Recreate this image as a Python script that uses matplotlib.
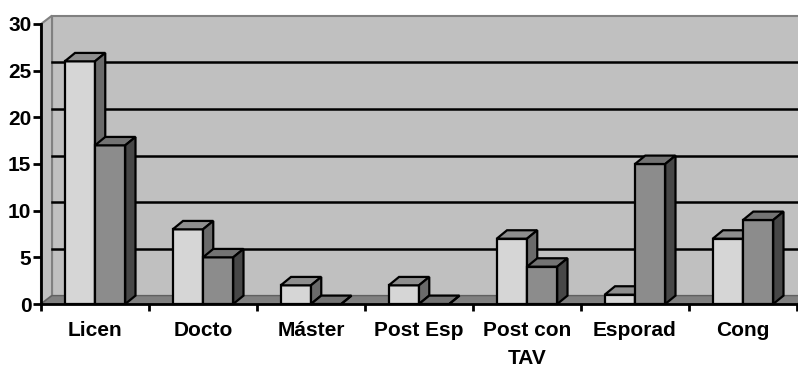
import matplotlib.pyplot as plt
from matplotlib.patches import Polygon

plt.rcParams['font.family'] = ['Liberation Sans', 'DejaVu Sans']
plt.rcParams['font.weight'] = 'bold'

categorias = ['Licen', 'Docto', 'Máster', 'Post Esp', 'Post con\nTAV', 'Esporad', 'Cong']
serie_a = [26, 8, 2, 2, 7, 1, 7]
serie_b = [17, 5, 0, 0, 4, 15, 9]
y_ticks = [0, 5, 10, 15, 20, 25, 30]

# profundidad de la vista 3D (en unidades de datos)
DX_PARED, DY = 0.102, 0.9
DX_BARRA = 0.095
ANCHO = 0.28


def barra(ax, x0, h, frente, techo, lado):
    x1 = x0 + ANCHO
    caras = [
        ([(x0, 0), (x1, 0), (x1, h), (x0, h)], frente),
        ([(x0, h), (x1, h), (x1 + DX_BARRA, h + DY), (x0 + DX_BARRA, h + DY)], techo),
        ([(x1, 0), (x1 + DX_BARRA, DY), (x1 + DX_BARRA, h + DY), (x1, h)], lado),
    ]
    for pts, col in caras:
        ax.add_patch(Polygon(pts, closed=True, facecolor=col, edgecolor='black',
                             linewidth=1.6, joinstyle='miter', clip_on=False, zorder=5))


fig = plt.figure(figsize=(7.98, 3.71), dpi=100)
ax = fig.add_axes([41 / 798, 67 / 371, 756 / 798, 280 / 371])
n = len(categorias)
ax.set_xlim(0, n)
ax.set_ylim(0, 30)

# pared del fondo, pared lateral y suelo
ax.add_patch(Polygon([(DX_PARED, DY), (n + DX_PARED, DY), (n + DX_PARED, 30 + DY), (DX_PARED, 30 + DY)],
                     facecolor='#c0c0c0', edgecolor='#808080', linewidth=1.5, clip_on=False, zorder=1))
ax.add_patch(Polygon([(0, 0), (DX_PARED, DY), (DX_PARED, 30 + DY), (0, 30)],
                     facecolor='#c0c0c0', edgecolor='#808080', linewidth=1.5, clip_on=False, zorder=1))
ax.add_patch(Polygon([(0, 0), (n, 0), (n + DX_PARED, DY), (DX_PARED, DY)],
                     facecolor='#808080', edgecolor='#606060', linewidth=1, clip_on=False, zorder=2))
for t in y_ticks[1:-1]:
    ax.plot([DX_PARED, n + DX_PARED], [t + DY, t + DY], color='black', linewidth=1.8,
            clip_on=False, zorder=3)

for i, (a, b) in enumerate(zip(serie_a, serie_b)):
    c = i + 0.5
    barra(ax, c - ANCHO, a, '#d6d6d6', '#8e8e8e', '#6a6a6a')
    barra(ax, c, b, '#8c8c8c', '#737373', '#474747')

for s in ['top', 'right']:
    ax.spines[s].set_visible(False)
for s in ['left', 'bottom']:
    ax.spines[s].set_linewidth(2)
    ax.spines[s].set_zorder(6)
ax.patch.set_visible(False)

ax.set_yticks(y_ticks)
ax.tick_params(axis='y', direction='out', length=6, width=2, pad=1, labelsize=15)
ax.set_xticks(range(n + 1))
ax.set_xticklabels([])
ax.set_xticks([i + 0.5 for i in range(n)], minor=True)
ax.set_xticklabels(categorias, minor=True, fontsize=15, fontweight='bold', linespacing=1.6)
ax.tick_params(axis='x', which='major', direction='out', length=5, width=2)
ax.tick_params(axis='x', which='minor', length=0, pad=12)

fig.savefig('out.png', dpi=100)
